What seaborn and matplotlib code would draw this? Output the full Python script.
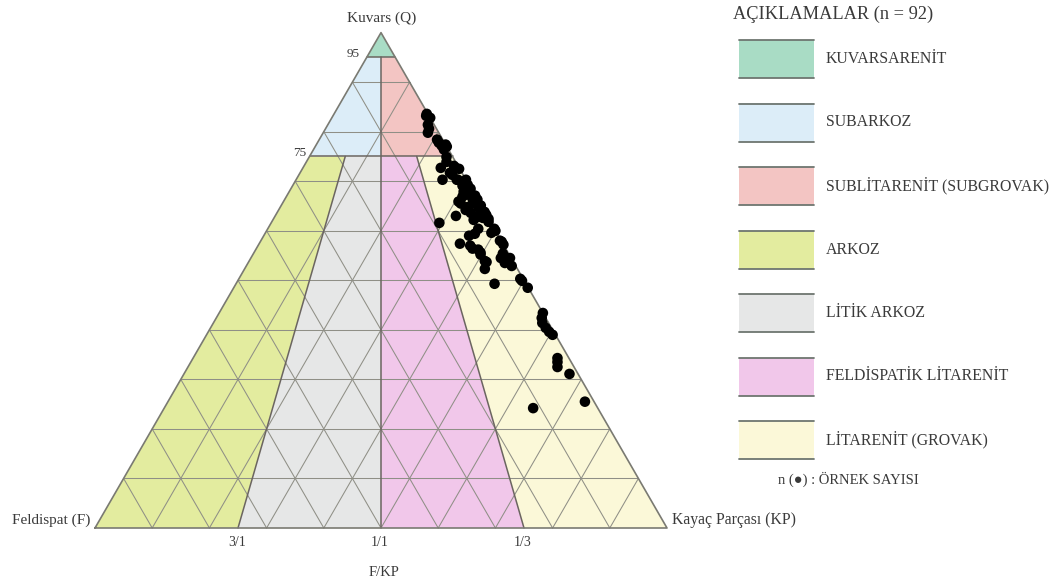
import numpy as np
import pandas as pd
import matplotlib
matplotlib.use("Agg")
import matplotlib.pyplot as plt
from matplotlib.patches import Rectangle
import seaborn as sns

# ---------------- data ----------------
Q = [83.6, 81.4, 79.8, 77.8, 77.4, 76.4, 72.7, 73.1, 71.7, 70.3,
     70.3, 69.1, 68.5, 67.3, 65.9, 66.3, 64.8, 64.6, 63.8, 63.0,
     62.8, 62.4, 61.6, 60.4, 59.4, 58.0, 57.4, 56.4, 55.2, 55.4,
     54.5, 53.9, 53.5, 52.3, 49.9, 49.3, 48.5, 43.4, 41.4, 39.6,
     34.3, 32.5, 31.1, 25.5, 24.2, 65.5, 62.2, 57.0, 61.8, 67.9,
     67.1, 63.8, 82.8, 80.6, 77.2, 77.0, 73.9, 71.3, 72.5, 70.3,
     65.5, 65.1, 63.6, 62.6, 60.0, 59.0, 57.2, 55.6, 54.1, 53.7,
     50.3, 42.4, 40.4, 39.0, 33.5, 83.2, 78.4, 72.7, 69.3, 66.9,
     63.2, 60.4, 57.8, 56.2, 54.5, 52.9, 74.9, 70.3, 64.2, 59.6,
     68.3, 66.3]
F = [0.2, 1.1, 1.9, 1.0, 0.0, 0.8, 3.2, 0.7, 2.1, 4.1,
     1.6, 1.2, 0.1, 1.2, 3.5, 0.8, 2.4, 0.6, 0.0, 5.4,
     1.7, 0.0, 9.0, 0.0, 3.9, 0.2, 7.5, 5.8, 5.0, 1.0,
     0.2, 4.9, 1.6, 5.7, 0.4, 5.5, 0.1, 0.0, 1.1, 0.8,
     2.0, 2.9, 1.5, 1.6, 11.3, 3.3, 2.7, 5.9, 0.3, 1.6,
     0.0, 0.1, 0.0, 1.3, 0.8, 0.0, 1.6, 1.9, 0.1, 0.0,
     1.1, 0.0, 2.5, 0.9, 0.0, 5.1, 0.0, 4.8, 0.9, 4.7,
     0.5, 0.7, 1.0, 0.5, 2.4, 0.5, 1.0, 0.6, 0.2, 2.3,
     0.0, 2.8, 0.0, 4.9, 1.8, 0.7, 1.1, 1.4, 3.1, 0.9,
     0.3, 0.0]
KP = [16.2, 17.5, 18.3, 21.2, 22.6, 22.8, 24.1, 26.2, 26.2, 25.6,
      28.1, 29.7, 31.4, 31.5, 30.6, 32.9, 32.8, 34.8, 36.2, 31.6,
      35.5, 37.6, 29.4, 39.6, 36.7, 41.8, 35.1, 37.8, 39.8, 43.6,
      45.3, 41.2, 44.9, 42.0, 49.7, 45.2, 51.4, 56.6, 57.5, 59.6,
      63.7, 64.6, 67.4, 72.9, 64.5, 31.2, 35.1, 37.1, 37.9, 30.5,
      32.9, 36.1, 17.2, 18.1, 22.0, 23.0, 24.5, 26.8, 27.4, 29.7,
      33.4, 34.9, 33.9, 36.5, 40.0, 35.9, 42.8, 39.6, 45.0, 41.6,
      49.2, 56.9, 58.6, 60.5, 64.1, 16.3, 20.6, 26.7, 30.5, 30.8,
      36.8, 36.8, 42.2, 38.9, 43.7, 46.4, 24.0, 28.3, 32.7, 39.5,
      31.4, 33.7]

classes = ["KUVARSARENİT", "SUBARKOZ", "SUBLİTARENİT (SUBGROVAK)", "ARKOZ",
           "LİTİK ARKOZ", "FELDİSPATİK LİTARENİT", "LİTARENİT (GROVAK)"]
class_colors = ["#a9dcc5", "#dcedf8", "#f3c5c3", "#e3ec9f",
                "#e6e7e7", "#f1c7ea", "#fbf8d8"]
# (Q min, Q max) and (F/(F+KP) max, F/(F+KP) min)
q_limits = [(95, 100), (75, 95), (75, 95), (0, 75), (0, 75), (0, 75), (0, 75)]
f_ratio = [(1.0, 0.0), (1.0, 0.5), (0.5, 0.0), (1.0, 0.75), (0.75, 0.5), (0.5, 0.25), (0.25, 0.0)]
ratio_labels = ["3/1", "1/1", "1/3"]
ratio_values = [0.75, 0.5, 0.25]
n_samples = 92

# ---------------- helpers ----------------
S3 = np.sqrt(3) / 2


def tern(q, f, kp):
    q, f, kp = np.asarray(q, float), np.asarray(f, float), np.asarray(kp, float)
    tot = q + f + kp
    q, kp = q / tot, kp / tot
    return kp + q / 2, q * S3


def ratio_pt(q, fr):
    q = q / 100.0
    return tern(q, fr * (1 - q), (1 - fr) * (1 - q))


# pixel -> data helper for annotations (axes spans whole figure)
X0, YB, SC = 95.0, 528.0, 572.0


def pix(px, py):
    return (px - X0) / SC, (YB - py) / SC


sns.set_theme(style="white")
plt.rcParams["font.family"] = ["Liberation Serif", "DejaVu Sans"]

fig = plt.figure(figsize=(10.54, 5.8), dpi=100)
ax = fig.add_axes([0, 0, 1, 1])

# regions
for (q0, q1), (fa, fb), col in zip(q_limits, f_ratio, class_colors):
    pts = [ratio_pt(q0, fa), ratio_pt(q1, fa), ratio_pt(q1, fb), ratio_pt(q0, fb)]
    ax.fill([p[0] for p in pts], [p[1] for p in pts], color=col, zorder=1, lw=0)

# grid lattice at 10 %
gcol = "#8f8f86"
for c in np.arange(0.1, 1.0, 0.1):
    for a, b in [((c, 1 - c, 0), (c, 0, 1 - c)),
                 ((1 - c, c, 0), (0, c, 1 - c)),
                 ((1 - c, 0, c), (0, 1 - c, c))]:
        xa, ya = tern(*a)
        xb, yb = tern(*b)
        ax.plot([xa, xb], [ya, yb], color=gcol, lw=0.75, zorder=2)

# boundaries
bcol = "#6b6560"
for qv in [95, 75]:
    xa, ya = ratio_pt(qv, 1.0)
    xb, yb = ratio_pt(qv, 0.0)
    ax.plot([xa, xb], [ya, yb], color=bcol, lw=1.1, zorder=3)
xa, ya = ratio_pt(95, 0.5)
xb, yb = ratio_pt(0, 0.5)
ax.plot([xa, xb], [ya, yb], color=bcol, lw=1.1, zorder=3)
for fr in [0.75, 0.25]:
    xa, ya = ratio_pt(75, fr)
    xb, yb = ratio_pt(0, fr)
    ax.plot([xa, xb], [ya, yb], color=bcol, lw=1.1, zorder=3)

# outline
ox, oy = tern([0, 0, 1, 0], [1, 0, 0, 1], [0, 1, 0, 0])
ax.plot(ox, oy, color="#7a7a72", lw=1.2, zorder=3)

# points
px_, py_ = tern(Q, F, KP)
df = pd.DataFrame({"x": px_, "y": py_})
sns.scatterplot(data=df, x="x", y="y", ax=ax, color="black", s=58,
                edgecolor="none", zorder=5, legend=False)
ax.set_xlabel("")
ax.set_ylabel("")
ax.set_xlim(-X0 / SC, (1054 - X0) / SC)
ax.set_ylim((YB - 580) / SC, YB / SC)
ax.axis("off")

tcol = "#3a3a3a"
# apex / vertex labels
ax.text(*pix(382, 18), "Kuvars (Q)", ha="center", va="center", fontsize=11, color=tcol)
ax.text(*pix(90, 520), "Feldispat (F)", ha="right", va="center", fontsize=11, color=tcol)
ax.text(*pix(672, 520), "Kayaç Parçası (KP)", ha="left", va="center", fontsize=11.3, color=tcol)
x95, y95 = ratio_pt(95, 1.0)
ax.text(x95 - 0.012, y95 + 0.006, "95", ha="right", va="center", fontsize=9.5, color=tcol)
x75, y75 = ratio_pt(75, 1.0)
ax.text(x75 - 0.006, y75 + 0.006, "75", ha="right", va="center", fontsize=9.5, color=tcol)
for lab, fr in zip(ratio_labels, ratio_values):
    bx, by = ratio_pt(0, fr)
    ax.text(bx - 0.002, pix(0, 543)[1], lab, ha="center", va="center", fontsize=10, color=tcol)
ax.text(*pix(369, 573), "F/KP", ha="left", va="center", fontsize=10.5, color=tcol)

# legend
ax.text(*pix(733, 14), f"AÇIKLAMALAR (n = {n_samples})", ha="left", va="center",
        fontsize=13.2, color=tcol)
top0, step, h, w, lx = 40.0, 63.5, 38.0, 75.0, 739.0
for i, (lab, col) in enumerate(zip(classes, class_colors)):
    t = top0 + i * step
    x0, y0 = pix(lx, t + h)
    ax.add_patch(Rectangle((x0, y0), w / SC, h / SC, facecolor=col, edgecolor="none", zorder=4))
    for yy in (t, t + h):
        xa, ya = pix(lx, yy)
        xb, _ = pix(lx + w, yy)
        ax.plot([xa, xb], [ya, ya], color="#6e7670", lw=1.3, zorder=5)
    ax.text(*pix(826, t + h / 2), lab, ha="left", va="center", fontsize=11.4, color=tcol)
ax.text(*pix(778, 479), "n (●) : ÖRNEK SAYISI", ha="left", va="center",
        fontsize=10.5, color=tcol)

fig.savefig("out.png", dpi=100)
